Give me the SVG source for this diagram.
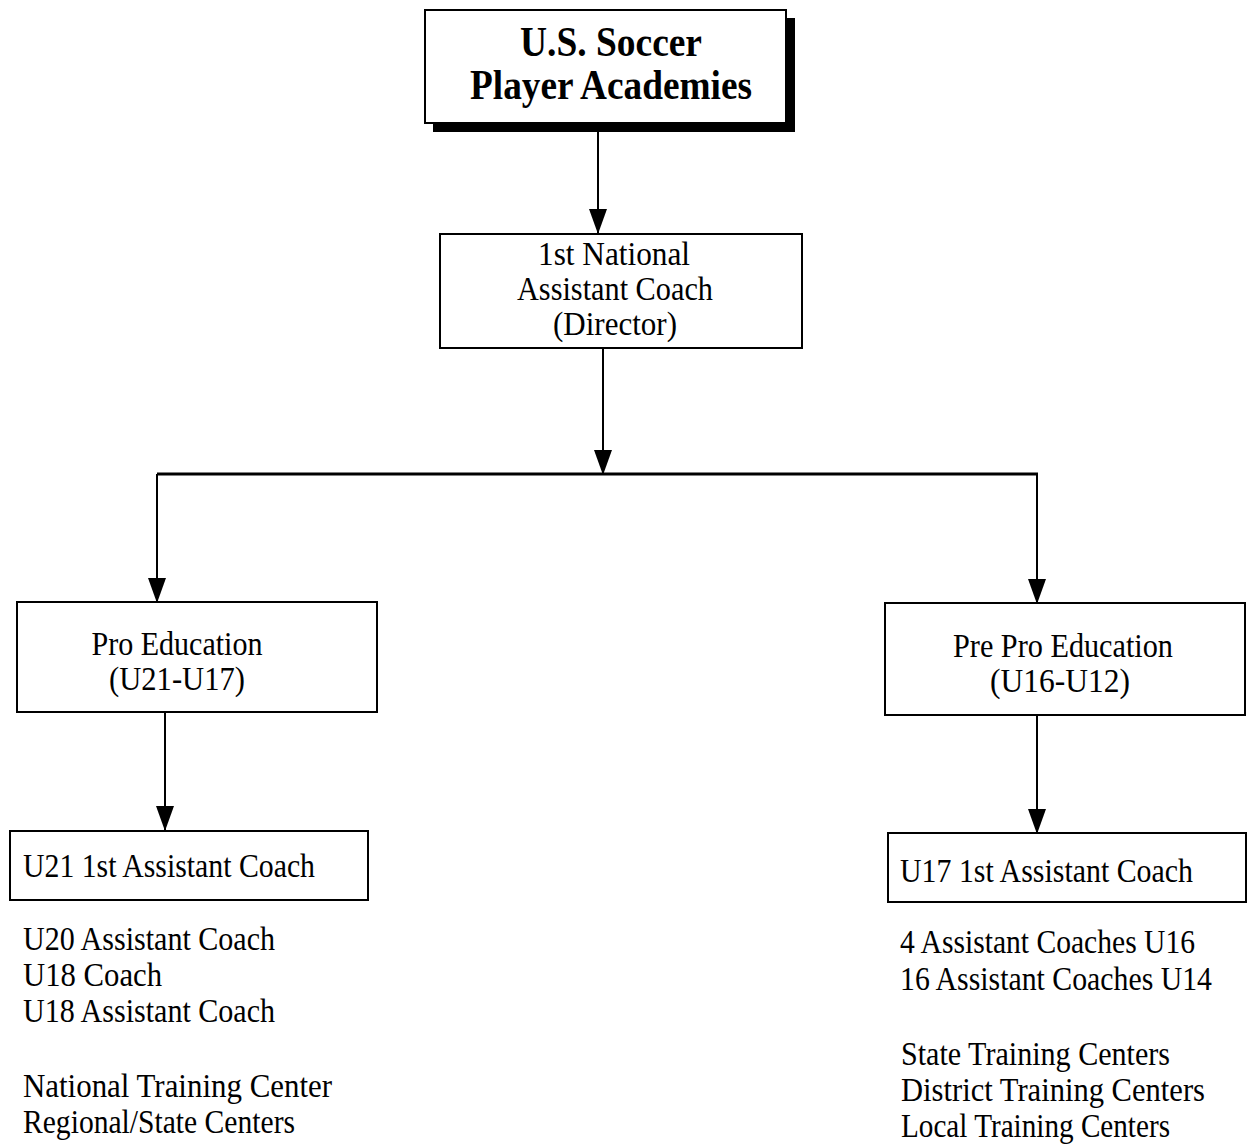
<svg xmlns="http://www.w3.org/2000/svg" width="1248" height="1144" viewBox="0 0 1248 1144">
<style>
.box{fill:#fff;stroke:#000;stroke-width:2}
.t{font-family:"Liberation Serif","Times New Roman",serif;font-size:34px;fill:#000}
.c{text-anchor:middle}
.b{font-weight:bold;font-size:43px}
.ln{stroke:#000;stroke-width:2;fill:none}
</style>
<defs>
<marker id="ah" markerUnits="userSpaceOnUse" markerWidth="25" markerHeight="18" refX="24" refY="9" viewBox="0 0 25 18" orient="auto">
<path d="M0,0 L25,9 L0,18 Z" fill="#000"/>
</marker>
</defs>
<g id="connectors">
<line class="ln" x1="598" y1="132" x2="598" y2="233" marker-end="url(#ah)"/>
<line class="ln" x1="603" y1="348" x2="603" y2="474" marker-end="url(#ah)"/>
<line class="ln" x1="157" y1="474" x2="1038" y2="474" style="stroke-width:3"/>
<line class="ln" x1="157" y1="474" x2="157" y2="602" marker-end="url(#ah)"/>
<line class="ln" x1="1037" y1="474" x2="1037" y2="603" marker-end="url(#ah)"/>
<line class="ln" x1="165" y1="713" x2="165" y2="830" marker-end="url(#ah)"/>
<line class="ln" x1="1037" y1="716" x2="1037" y2="833" marker-end="url(#ah)"/>
</g>
<g id="node-academies">
<rect x="433" y="18" width="362" height="114" fill="#000"/>
<rect class="box" x="425" y="10" width="361" height="113"/>
<text class="t c b" x="611" y="56" textLength="182" lengthAdjust="spacingAndGlyphs">U.S. Soccer</text>
<text class="t c b" x="611" y="99" textLength="282" lengthAdjust="spacingAndGlyphs">Player Academies</text>
</g>
<g id="node-director">
<rect class="box" x="440" y="234" width="362" height="114"/>
<text class="t c" x="614" y="265" textLength="152" lengthAdjust="spacingAndGlyphs">1st  National</text>
<text class="t c" x="615" y="300" textLength="196" lengthAdjust="spacingAndGlyphs">Assistant  Coach</text>
<text class="t c" x="615" y="335" textLength="124" lengthAdjust="spacingAndGlyphs">(Director)</text>
</g>
<g id="node-pro">
<rect class="box" x="17" y="602" width="360" height="110"/>
<text class="t c" x="177" y="655" textLength="171" lengthAdjust="spacingAndGlyphs">Pro Education</text>
<text class="t c" x="177" y="690" textLength="136" lengthAdjust="spacingAndGlyphs">(U21-U17)</text>
</g>
<g id="node-prepro">
<rect class="box" x="885" y="603" width="360" height="112"/>
<text class="t c" x="1063" y="657" textLength="220" lengthAdjust="spacingAndGlyphs">Pre Pro Education</text>
<text class="t c" x="1060" y="692" textLength="140" lengthAdjust="spacingAndGlyphs">(U16-U12)</text>
</g>
<g id="node-u21">
<rect class="box" x="10" y="831" width="358" height="69"/>
<text class="t" x="23" y="877" textLength="292" lengthAdjust="spacingAndGlyphs">U21 1st Assistant Coach</text>
</g>
<g id="list-pro">
<text class="t" x="23" y="950" textLength="252" lengthAdjust="spacingAndGlyphs">U20 Assistant Coach</text>
<text class="t" x="23" y="986" textLength="139" lengthAdjust="spacingAndGlyphs">U18 Coach</text>
<text class="t" x="23" y="1022" textLength="252" lengthAdjust="spacingAndGlyphs">U18 Assistant Coach</text>
<text class="t" x="23" y="1097" textLength="309" lengthAdjust="spacingAndGlyphs">National Training Center</text>
<text class="t" x="23" y="1133" textLength="272" lengthAdjust="spacingAndGlyphs">Regional/State Centers</text>
</g>
<g id="node-u17">
<rect class="box" x="888" y="833" width="358" height="69"/>
<text class="t" x="900" y="882" textLength="293" lengthAdjust="spacingAndGlyphs">U17 1st Assistant Coach</text>
</g>
<g id="list-prepro">
<text class="t" x="900" y="953" textLength="295" lengthAdjust="spacingAndGlyphs">4 Assistant Coaches U16</text>
<text class="t" x="900" y="990" textLength="312" lengthAdjust="spacingAndGlyphs">16 Assistant Coaches U14</text>
<text class="t" x="901" y="1065" textLength="269" lengthAdjust="spacingAndGlyphs">State Training Centers</text>
<text class="t" x="901" y="1101" textLength="304" lengthAdjust="spacingAndGlyphs">District Training Centers</text>
<text class="t" x="901" y="1137" textLength="269" lengthAdjust="spacingAndGlyphs">Local Training Centers</text>
</g>
</svg>
